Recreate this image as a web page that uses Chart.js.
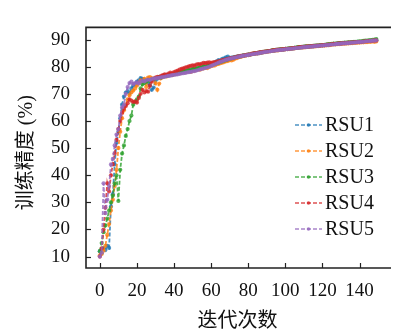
<!DOCTYPE html>
<html>
<head>
<meta charset="utf-8">
<script src="https://cdn.jsdelivr.net/npm/chart.js@4.4.1/dist/chart.umd.min.js"></script>
<style>
  html, body { margin: 0; padding: 0; background: #fff; }
  canvas { display: block; }
</style>
</head>
<body>
<canvas id="chart" width="393" height="335"></canvas>
<script>
// iteration index (x axis)
const iterations = Array.from({ length: 150 }, (_, i) => i);

const xTicks = [0, 20, 40, 60, 80, 100, 120, 140];
const yTicks = [10, 20, 30, 40, 50, 60, 70, 80, 90];

const seriesNames = ["RSU1", "RSU2", "RSU3", "RSU4", "RSU5"];
const seriesColors = ["#1f77b4", "#ff7f0e", "#2ca02c", "#d62728", "#9467bd"];

// training accuracy (%)
const rsu1 = [
  12.0, 11.2, 13.1, 12.4, 14.0, 13.2, 28.5, 33.0, 44.0, 52.0,
  56.0, 61.0, 66.0, 69.0, 70.5, 71.0, 70.2, 72.0, 73.0, 73.6,
  74.5, 75.0, 75.8, 75.5, 75.2, 74.8, 74.0, 73.2, 71.5, 72.3,
  74.8, 75.6, 76.3, 76.1, 76.6, 76.4, 77.0, 76.8, 77.3, 77.1,
  77.6, 77.4, 77.9, 77.7, 78.2, 78.1, 78.5, 78.3, 78.9, 78.6,
  79.1, 78.9, 79.4, 79.2, 79.8, 79.5, 80.1, 79.9, 80.4, 80.2,
  80.9, 81.2, 81.6, 82.0, 82.4, 82.3, 82.9, 83.1, 83.5, 83.7,
  83.3, 83.4, 83.5, 83.6, 83.7, 83.9, 83.8, 84.1, 84.2, 84.3,
  84.5, 84.4, 84.7, 84.8, 85.0, 84.9, 85.2, 85.1, 85.4, 85.5,
  85.6, 85.8, 85.7, 86.0, 85.9, 86.2, 86.1, 86.3, 86.4, 86.3,
  86.6, 86.5, 86.7, 86.8, 86.7, 87.0, 86.9, 87.1, 87.2, 87.1,
  87.3, 87.4, 87.3, 87.5, 87.6, 87.5, 87.7, 87.8, 87.7, 87.9,
  87.9, 88.0, 88.1, 88.0, 88.2, 88.3, 88.4, 88.3, 88.5, 88.6,
  88.6, 88.7, 88.8, 88.7, 88.9, 88.8, 89.0, 89.1, 89.0, 89.2,
  89.1, 89.2, 89.3, 89.4, 89.3, 89.5, 89.4, 89.6, 89.7, 89.8
];
const rsu2 = [
  10.5, 11.0, 12.2, 14.0, 18.0, 22.0, 27.0, 31.0, 36.0, 42.0,
  50.0, 56.0, 61.0, 64.0, 66.0, 68.0, 69.5, 70.5, 71.2, 72.0,
  73.0, 74.0, 75.0, 74.4, 75.5, 72.5, 76.0, 76.2, 75.8, 75.4,
  74.0, 71.5, 73.8, 75.8, 76.2, 76.5, 76.4, 76.8, 77.0, 76.9,
  77.2, 77.3, 77.6, 77.5, 77.8, 78.0, 77.9, 78.2, 78.3, 78.1,
  78.6, 78.5, 78.8, 79.0, 78.9, 79.3, 79.4, 79.6, 79.5, 79.9,
  80.2, 80.4, 80.5, 80.9, 81.0, 81.3, 81.5, 81.7, 82.0, 82.1,
  82.4, 82.3, 82.6, 83.0, 83.2, 83.5, 83.6, 83.9, 84.0, 84.2,
  84.3, 84.4, 84.6, 84.7, 84.8, 84.9, 85.0, 85.2, 85.3, 85.4,
  85.5, 85.6, 85.7, 85.8, 85.9, 86.0, 86.0, 86.2, 86.2, 86.3,
  86.4, 86.5, 86.5, 86.6, 86.7, 86.8, 86.9, 86.9, 87.0, 87.1,
  87.1, 87.2, 87.3, 87.3, 87.4, 87.5, 87.5, 87.6, 87.6, 87.7,
  87.8, 87.8, 87.9, 88.0, 88.0, 88.1, 88.2, 88.2, 88.3, 88.3,
  88.4, 88.5, 88.5, 88.6, 88.6, 88.7, 88.7, 88.8, 88.8, 88.9,
  88.9, 89.0, 89.0, 89.1, 89.1, 89.2, 89.2, 89.3, 89.2, 89.3
];
const rsu3 = [
  12.0, 15.0, 19.0, 21.5, 24.0, 27.0, 30.0, 32.5, 37.0, 40.0,
  30.5, 42.0, 48.0, 51.0, 54.5, 57.0, 60.0, 62.0, 66.0, 67.0,
  68.0, 69.0, 72.0, 73.5, 74.0, 74.5, 75.0, 74.7, 75.2, 75.5,
  75.7, 75.9, 76.2, 76.0, 76.5, 76.8, 76.6, 77.0, 77.2, 77.1,
  77.5, 77.6, 77.8, 78.0, 77.9, 78.3, 78.4, 78.6, 78.8, 78.7,
  79.1, 79.3, 79.2, 79.6, 79.7, 79.9, 80.1, 80.0, 80.4, 80.5,
  80.7, 80.9, 81.1, 81.3, 81.5, 81.8, 82.0, 82.2, 82.4, 82.7,
  82.9, 83.1, 83.3, 83.5, 83.6, 83.8, 83.9, 84.1, 84.2, 84.4,
  84.5, 84.6, 84.7, 84.9, 85.0, 85.1, 85.2, 85.4, 85.5, 85.6,
  85.7, 85.8, 85.9, 86.0, 86.1, 86.2, 86.3, 86.4, 86.4, 86.5,
  86.6, 86.7, 86.8, 86.8, 86.9, 87.0, 87.1, 87.2, 87.2, 87.3,
  87.4, 87.5, 87.5, 87.6, 87.6, 87.7, 87.8, 87.8, 87.9, 88.0,
  88.0, 88.1, 88.2, 88.3, 88.3, 88.4, 88.5, 88.5, 88.6, 88.7,
  88.7, 88.8, 88.9, 88.9, 89.0, 89.0, 89.1, 89.2, 89.2, 89.3,
  89.4, 89.4, 89.5, 89.6, 89.6, 89.7, 89.8, 89.9, 90.0, 90.2
];
const rsu4 = [
  10.0, 13.0, 20.0, 28.0, 37.0, 34.0, 40.0, 44.0, 48.0, 53.0,
  57.0, 60.0, 63.0, 64.5, 65.5, 66.5, 68.0, 67.5, 67.0, 67.2,
  66.8, 68.5, 70.0, 71.5, 70.5, 71.0, 70.8, 73.0, 74.5, 75.5,
  76.0, 76.3, 76.1, 76.6, 76.9, 77.2, 77.0, 77.5, 77.8, 77.6,
  78.0, 78.3, 78.6, 78.9, 79.2, 79.4, 79.7, 79.9, 80.1, 80.3,
  80.5, 80.4, 80.8, 81.0, 80.9, 81.2, 81.4, 81.3, 81.5, 81.6,
  81.4, 81.6, 81.7, 81.9, 82.0, 82.2, 82.4, 82.5, 82.7, 82.9,
  83.1, 83.2, 83.4, 83.5, 83.7, 83.8, 84.0, 84.1, 84.2, 84.4,
  84.5, 84.6, 84.8, 84.9, 85.0, 85.1, 85.3, 85.4, 85.5, 85.6,
  85.7, 85.8, 85.9, 86.0, 86.1, 86.2, 86.3, 86.3, 86.4, 86.5,
  86.6, 86.6, 86.7, 86.8, 86.9, 87.0, 87.0, 87.1, 87.2, 87.3,
  87.3, 87.4, 87.5, 87.5, 87.6, 87.7, 87.7, 87.8, 87.8, 87.9,
  88.0, 88.0, 88.1, 88.2, 88.2, 88.3, 88.4, 88.4, 88.5, 88.6,
  88.6, 88.7, 88.7, 88.8, 88.9, 88.9, 89.0, 89.0, 89.1, 89.1,
  89.2, 89.2, 89.3, 89.4, 89.4, 89.5, 89.5, 89.6, 89.7, 89.7
];
const rsu5 = [
  10.0, 11.5, 37.0, 26.0, 31.0, 36.0, 44.0, 46.0, 51.0, 55.0,
  57.0, 62.0, 65.0, 66.0, 70.0, 72.5, 74.0, 74.5, 73.6, 74.0,
  74.2, 73.8, 74.5, 74.8, 74.6, 75.0, 75.3, 75.1, 75.5, 75.6,
  75.7, 75.8, 75.9, 76.1, 76.2, 76.3, 76.5, 76.6, 76.7, 76.9,
  77.0, 77.1, 77.2, 77.4, 77.5, 77.6, 77.7, 77.9, 78.0, 78.1,
  78.3, 78.4, 78.6, 78.8, 79.0, 79.2, 79.4, 79.6, 79.8, 80.0,
  80.3, 80.6, 80.9, 81.2, 81.5, 81.8, 82.0, 82.3, 82.5, 82.7,
  82.9, 83.1, 83.2, 83.4, 83.5, 83.7, 83.8, 84.0, 84.1, 84.2,
  84.3, 84.5, 84.6, 84.7, 84.8, 84.9, 85.0, 85.2, 85.3, 85.4,
  85.5, 85.6, 85.7, 85.8, 85.9, 86.0, 86.1, 86.2, 86.2, 86.3,
  86.4, 86.5, 86.6, 86.6, 86.7, 86.8, 86.9, 86.9, 87.0, 87.1,
  87.2, 87.2, 87.3, 87.4, 87.4, 87.5, 87.6, 87.6, 87.7, 87.8,
  87.8, 87.9, 88.0, 88.0, 88.1, 88.2, 88.2, 88.3, 88.4, 88.4,
  88.5, 88.6, 88.6, 88.7, 88.7, 88.8, 88.9, 88.9, 89.0, 89.1,
  89.1, 89.2, 89.2, 89.3, 89.4, 89.4, 89.5, 89.6, 89.6, 89.7
];
const seriesValues = [rsu1, rsu2, rsu3, rsu4, rsu5];

const SERIF = '"Liberation Serif", "Noto Sans CJK SC", serif';
const INK = "#222";
const LINE_DASH = [4, 2];

// box (top/left/bottom spines), inward ticks and the legend
const framePlugin = {
  id: "frame",
  afterDatasetsDraw(chart) {
    const { ctx, chartArea: a, scales } = chart;
    ctx.save();
    ctx.setLineDash([]);
    ctx.strokeStyle = INK;
    ctx.lineWidth = 1.2;
    xTicks.forEach((v) => {
      const px = Math.round(scales.x.getPixelForValue(v)) + 0.5;
      ctx.beginPath();
      ctx.moveTo(px, a.bottom);
      ctx.lineTo(px, a.bottom - 5);
      ctx.stroke();
    });
    yTicks.forEach((v) => {
      const py = Math.round(scales.y.getPixelForValue(v)) + 0.5;
      ctx.beginPath();
      ctx.moveTo(a.left, py);
      ctx.lineTo(a.left + 5, py);
      ctx.stroke();
    });
    ctx.lineWidth = 1.6;
    ctx.beginPath();
    ctx.moveTo(a.right + 2, a.top);
    ctx.lineTo(a.left, a.top);
    ctx.lineTo(a.left, a.bottom);
    ctx.lineTo(a.right + 2, a.bottom);
    ctx.stroke();

    // legend
    ctx.font = "20px " + SERIF;
    ctx.textBaseline = "middle";
    ctx.textAlign = "left";
    seriesNames.forEach((name, i) => {
      const y = 125 + i * 26;
      const col = seriesColors[i] + "cc";
      ctx.strokeStyle = col;
      ctx.lineWidth = 1.5;
      ctx.setLineDash(LINE_DASH);
      ctx.beginPath();
      ctx.moveTo(295, y);
      ctx.lineTo(322, y);
      ctx.stroke();
      ctx.setLineDash([]);
      ctx.fillStyle = col;
      ctx.beginPath();
      ctx.arc(308.5, y, 1.8, 0, Math.PI * 2);
      ctx.fill();
      ctx.fillStyle = "#111";
      ctx.fillText(name, 325, y + 1);
    });
    ctx.restore();
  }
};

const datasets = seriesNames.map((name, i) => ({
  label: name,
  data: iterations.map((x, k) => ({ x: x, y: seriesValues[i][k] })),
  borderColor: seriesColors[i] + "cc",
  backgroundColor: seriesColors[i] + "cc",
  pointBackgroundColor: seriesColors[i] + "cc",
  borderWidth: 1.8,
  borderDash: LINE_DASH,
  pointRadius: 2.1,
  pointBorderWidth: 0,
  tension: 0,
  fill: false,
  order: seriesNames.length - i
}));

new Chart(document.getElementById("chart"), {
  type: "line",
  data: { datasets },
  options: {
    responsive: false,
    animation: false,
    layout: { padding: { top: 8, right: 0, bottom: 0, left: 0 } },
    plugins: { legend: { display: false }, tooltip: { enabled: false } },
    scales: {
      x: {
        type: "linear",
        min: -7.45,
        max: 155.85,
        afterBuildTicks: (s) => { s.ticks = xTicks.map((v) => ({ value: v })); },
        afterFit: (s) => { s.height = 67; },
        grid: { display: false, drawTicks: false },
        border: { display: false },
        ticks: { color: "#111", padding: 12, maxRotation: 0, font: { family: SERIF, size: 19 } },
        title: {
          display: true,
          text: "迭代次数",
          color: "#111",
          padding: { top: 0, bottom: 1 },
          font: { family: SERIF, size: 20 }
        }
      },
      y: {
        min: 5.8,
        max: 94.5,
        afterBuildTicks: (s) => { s.ticks = yTicks.map((v) => ({ value: v })); },
        afterFit: (s) => { s.width = 86; },
        grid: { display: false, drawTicks: false },
        border: { display: false },
        ticks: { color: "#111", padding: 16, font: { family: SERIF, size: 19 } },
        title: {
          display: true,
          text: "训练精度 (%)  ",
          color: "#111",
          padding: { top: 15, bottom: 0 },
          font: { family: SERIF, size: 20 }
        }
      }
    }
  },
  plugins: [framePlugin]
});
</script>
</body>
</html>
